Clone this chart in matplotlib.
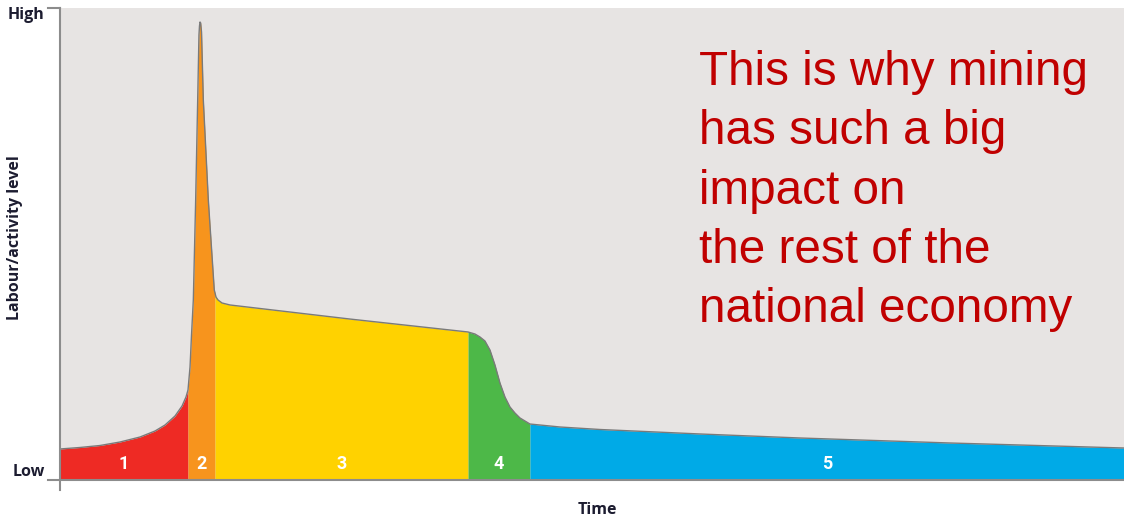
"""Mining life-cycle labour/activity chart."""
import matplotlib
matplotlib.use("Agg")
import matplotlib.pyplot as plt
import numpy as np

# curve: time (0-100) vs activity level (0-100)
time = [0.0, 1.88, 3.76, 5.64, 7.52, 8.93, 9.87, 10.81, 11.47, 11.84,
        12.03, 12.22, 12.36, 12.53, 12.75, 12.94, 13.06, 13.11, 13.16, 13.22,
        13.30, 13.47, 13.94, 14.50, 14.57, 14.66, 14.85, 15.23, 15.98, 27.26,
        38.35, 39.00, 39.47, 39.94, 40.41, 40.88, 41.35, 41.82, 42.29, 42.76,
        43.23, 43.70, 44.17, 46.99, 50.75, 60.15, 69.55, 83.65, 100.0]
level = [6.57, 6.89, 7.31, 8.05, 9.11, 10.38, 11.65, 13.56, 15.68, 17.58,
         19.07, 23.94, 30.72, 38.14, 59.32, 80.51, 94.28, 96.19, 97.03, 96.82,
         94.92, 80.51, 59.32, 40.25, 39.62, 38.77, 38.14, 37.50, 37.08, 34.10,
         31.36, 30.93, 30.30, 29.45, 27.54, 24.36, 20.55, 17.58, 15.47, 14.19,
         13.14, 12.50, 11.86, 11.23, 10.70, 9.75, 8.90, 7.84, 6.78]

# phase boundaries and labels
bounds = [0.0, 12.03, 14.57, 38.35, 44.17, 100.0]
phases = ["1", "2", "3", "4", "5"]
colors = ["#ee2a24", "#f7941d", "#ffd200", "#4db848", "#00aae7"]

message = ("This is why mining\nhas such a big\nimpact on\n"
           "the rest of the\nnational economy")

BG = "#e7e4e3"
INK = "#1c1c30"
AXIS = "#8c8c8c"

fig = plt.figure(figsize=(11.24, 5.19), dpi=100)
ax = fig.add_axes([60 / 1124, 39 / 519, 1064 / 1124, 472 / 519])
ax.set_facecolor(BG)
ax.set_xlim(0, 100)
ax.set_ylim(0, 100)

t = np.array(time)
y = np.array(level)
for (a, b), c, lab in zip(zip(bounds[:-1], bounds[1:]), colors, phases):
    m = (t >= a) & (t <= b)
    ax.fill_between(t[m], 0, y[m], color=c, lw=0)
    ax.text((a + b) / 2, 3.3, lab, color="white", ha="center", va="center",
            fontsize=13, fontweight="bold", family="Roboto")

ax.plot(t, y, color="#7a7a7a", lw=1.0, solid_joinstyle="round")

for s in ax.spines.values():
    s.set_visible(False)
ax.set_xticks([])
ax.set_yticks([])

# custom axis lines and ticks
kw = dict(transform=ax.transAxes, color=AXIS, lw=1.5, clip_on=False)
ax.plot([0, 0], [-0.022, 1], **kw)
ax.plot([-0.011, 0], [1, 1], **kw)
ax.plot([-0.011, 1], [0, 0], **kw)

lbl = dict(color=INK, fontweight="bold", family="Open Sans", fontsize=11.5)
ax.text(-0.0145, 0.985, "High", ha="right", va="center", transform=ax.transAxes, **lbl)
ax.text(-0.0145, 0.017, "Low", ha="right", va="center", transform=ax.transAxes, **lbl)
fig.text(15 / 1124, 1 - 238 / 519, "Labour/activity level", rotation=90,
         ha="center", va="center", **lbl)
fig.text(597 / 1124, 1 - 510 / 519, "Time", ha="center", va="center", **lbl)

fig.text(699 / 1124, 1 - 50 / 519, message, color="#c00000", fontsize=34.3,
         family="Liberation Sans", ha="left", va="top", linespacing=1.41)

fig.savefig("out.png", dpi=100)
